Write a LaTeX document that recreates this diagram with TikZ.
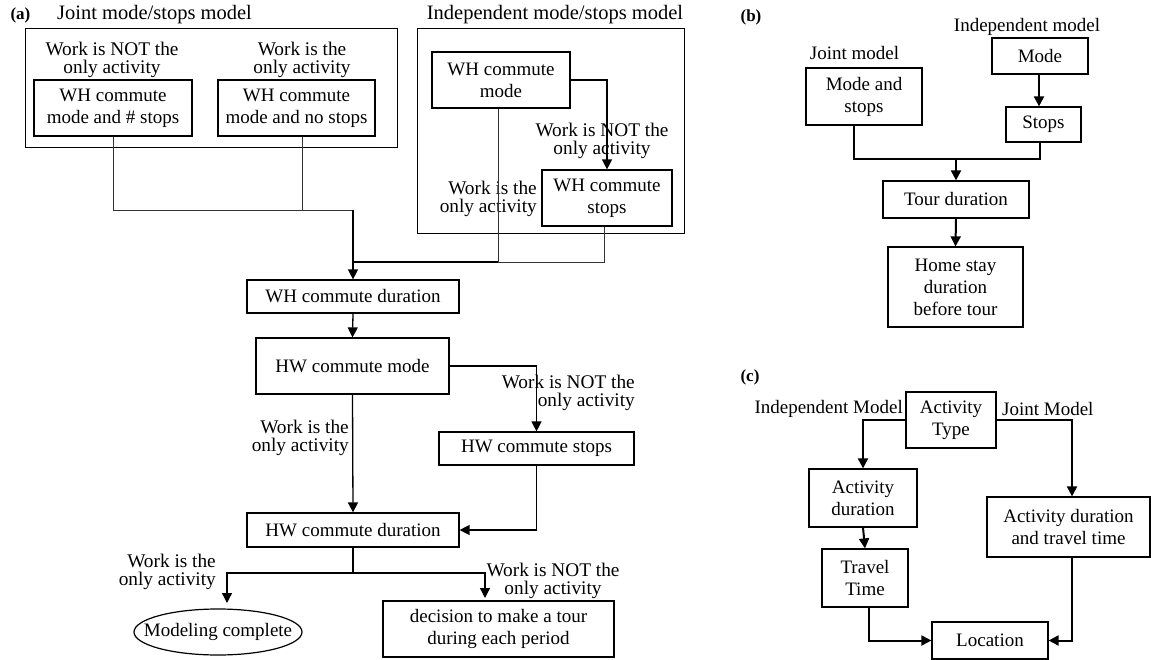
\documentclass[tikz,border=0pt]{standalone}
\usepackage{fontspec}
\setmainfont{Liberation Serif}
\usetikzlibrary{arrows.meta,shapes.geometric}
\newcommand\boxfont{\fontsize{19}{22}\selectfont}
\newcommand\lblfont{\fontsize{19.3}{17.5}\selectfont}
\tikzset{
  bx/.style={draw, line width=1.2pt, inner sep=0pt, align=center, font=\boxfont},
  grp/.style={draw, line width=0.9pt, inner sep=0pt},
  lbl/.style={inner sep=0pt, align=center, font=\lblfont},
  lblr/.style={inner sep=0pt, align=right, font=\lblfont},
  ttl/.style={inner sep=0pt, font=\boxfont},
  ttla/.style={inner sep=0pt, font=\fontsize{20.5}{22}\selectfont},
  pan/.style={inner sep=0pt, font=\fontsize{17}{17}\selectfont\bfseries},
  thinln/.style={line width=0.9pt, draw=black!80},
  arr/.style={line width=1.3pt, -{Triangle[width=10pt,length=10pt]}},
  arrt/.style={line width=2pt, -{Triangle[width=10pt,length=10pt]}},
  thk/.style={line width=2pt}
}
\begin{document}
\begin{tikzpicture}[x=1pt,y=-1pt]
\useasboundingbox (0,0) rectangle (1151,660);

% ---------------- panel (a) ----------------
\node[pan] (pa) at (20.5,15) {(a)};
\node[ttla] (tj) at (154.5,15) {Joint mode/stops model};
\node[grp, minimum width=372, minimum height=119] (jbox) at (211,87.5) {};
\node[lbl] (jl1) at (112,60) {Work is NOT the\\only activity};
\node[bx, minimum width=158, minimum height=56] (j1) at (113,108) {WH commute\\mode and \# stops};
\node[lbl] (jl2) at (302,60) {Work is the\\only activity};
\node[bx, minimum width=157, minimum height=56] (j2) at (296.5,108) {WH commute\\mode and no stops};

\node[ttla] (ti) at (555,15) {Independent mode/stops model};
\node[grp, minimum width=267, minimum height=205] (ibox) at (550.5,130.5) {};
\node[bx, minimum width=138, minimum height=56] (i1) at (501,80) {WH commute\\mode};
\node[bx, minimum width=130, minimum height=56] (i2) at (607,198) {WH commute\\stops};
\node[lbl] (il1) at (602,141) {Work is NOT the\\only activity};
\node[lblr, anchor=east] (il2) at (537,199) {Work is the\\only activity};

\node[bx, minimum width=212, minimum height=33] (d1) at (353,296.5) {WH commute duration};
\node[bx, minimum width=193, minimum height=56] (m2) at (352.5,366) {HW commute mode};
\node[bx, minimum width=195, minimum height=33] (s2) at (536.5,448.5) {HW commute stops};
\node[bx, minimum width=212, minimum height=34] (d2) at (353,530) {HW commute duration};
\node[inner sep=0pt, font=\boxfont] (mc) at (218,632) {Modeling complete};
\draw[line width=1.2pt] (mc.center) ellipse [x radius=84pt, y radius=23pt];
\node[bx, minimum width=231, minimum height=56] (dec) at (498.5,629) {decision to make a tour\\during each period};

\node[lblr, anchor=east] (lb3) at (635,393) {Work is NOT the\\only activity};
\node[lblr, anchor=east] (lb4) at (349,438) {Work is the\\only activity};
\node[lblr, anchor=east] (lb5) at (216,572) {Work is the\\only activity};
\node[lbl] (lb6) at (553,581) {Work is NOT the\\only activity};

\coordinate (jm) at (353,210);
\coordinate (hm) at (353,262);
\coordinate (im) at (498,262);
\coordinate (br) at (353,573);
\coordinate (mcin) at (227,603);
\coordinate (decin) at (485,598);

\draw[thinln] (j1.south) |- (jm);
\draw[thinln] ([xshift=5.5pt]j2.south) -- ++(0,74);
\draw[arr] (jm) -- (d1.north);
\draw[arr] (i1.east) -| (i2.north);
\draw[thinln] ([xshift=-3pt]i1.south) -- (im);
\draw[thinln] (im) -| ([xshift=-3pt]i2.south);
\draw[thk] (im) -- (hm);
\draw[arr] (d1.south) -- (m2.north);
\draw[arr] (m2.east) -| (s2.north);
\draw[arr] (m2.south) -- (d2.north);
\draw[arr] (s2.south) |- (d2.east);
\draw[line width=1.2pt] (d2.south) -- (br);
\draw[arr] (br) -| (mcin);
\draw[arr] (br) -| (decin);

% ---------------- panel (b) ----------------
\node[pan] (pb) at (751,17) {(b)};
\node[ttl] (tim) at (1027,27) {Independent model};
\node[bx, minimum width=96, minimum height=36] (mode) at (1040,56) {Mode};
\node[bx, minimum width=75, minimum height=35] (stops) at (1043.5,124.5) {Stops};
\node[ttl] (tjm) at (854.5,53) {Joint model};
\node[bx, minimum width=116, minimum height=57] (ms) at (864,96.5) {Mode and\\stops};
\node[bx, minimum width=146, minimum height=37] (tour) at (956,199.5) {Tour duration};
\node[bx, minimum width=135, minimum height=80] (home) at (955.5,287) {Home stay\\duration\\before tour};
\coordinate (bj) at (956,159);

\draw[arrt] ([xshift=-1pt]mode.south) -- ([xshift=-4.5pt]stops.north);
\draw[line width=1.2pt] ([xshift=-10pt]ms.south) |- (bj) -| ([xshift=-3.5pt]stops.south);
\draw[arrt] (bj) -- (tour.north);
\draw[arrt] (tour.south) -- (home.north);

% ---------------- panel (c) ----------------
\node[pan] (pc) at (750,377) {(c)};
\node[bx, minimum width=90, minimum height=56] (at) at (951,420) {Activity\\Type};
\node[ttl, anchor=east] (tic) at (903,409) {Independent Model};
\node[ttl, anchor=west] (tjc) at (1002,409) {Joint Model};
\node[bx, minimum width=108, minimum height=58] (ad) at (863,498) {Activity\\duration};
\node[bx, minimum width=86, minimum height=58] (tt) at (865,578) {Travel\\Time};
\node[bx, minimum width=116, minimum height=37] (loc) at (990,640.5) {Location};
\node[bx, minimum width=163, minimum height=60] (adtt) at (1068.5,527) {Activity duration\\and travel time};

\draw[arrt] (at.west) -| (ad.north);
\draw[arrt] (ad.south) -- (tt.north);
\draw[arrt] ([xshift=4pt]tt.south) |- (loc.west);
\draw[arrt] (at.east) -| ([xshift=3.5pt]adtt.north);
\draw[arrt] ([xshift=3.5pt]adtt.south) |- (loc.east);
\end{tikzpicture}
\end{document}
